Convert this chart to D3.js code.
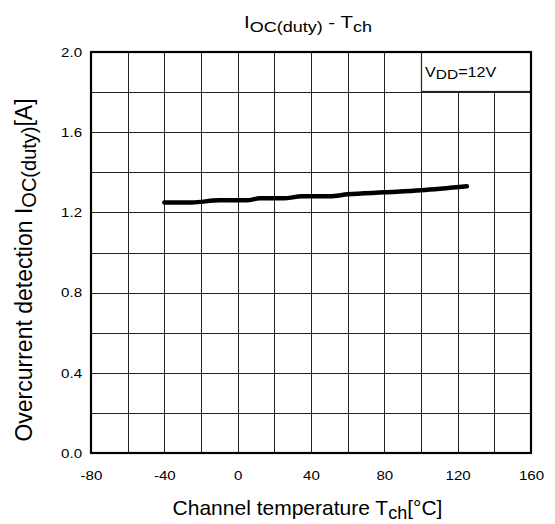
<!DOCTYPE html>
<html>
<head>
<meta charset="utf-8">
<script src="https://cdn.jsdelivr.net/npm/d3@7"></script>
<style>
  body { margin: 0; background: #fff; }
  svg text { font-family: Arial, "Liberation Sans", sans-serif; fill: #000; }
</style>
</head>
<body>
<svg id="chart" width="555" height="524"></svg>
<script>
const temps = [-40, -25, -10, 5, 12, 25, 35, 50, 60, 80, 100, 125];
const currents = [1.25, 1.25, 1.26, 1.26, 1.27, 1.27, 1.28, 1.28, 1.29, 1.30, 1.31, 1.33];
const xTicks = [-80, -40, 0, 40, 80, 120, 160];
const yTicks = [0.0, 0.4, 0.8, 1.2, 1.6, 2.0];
const xGrid = d3.range(-80, 161, 20);
const yGrid = [0.2, 0.4, 0.6, 0.8, 1.0, 1.2, 1.4, 1.6, 1.8];

const FONT = "Arial, 'Liberation Sans', sans-serif";
const svg = d3.select("#chart");
const L = 91, R = 531, T = 52, B = 453;
const x = d3.scaleLinear().domain([-80, 160]).range([L, R]);
const y = d3.scaleLinear().domain([0, 2]).range([B, T]);

const grid = svg.append("g").attr("stroke", "#222").attr("stroke-width", 1);
grid.selectAll("line.v").data(xGrid.filter(d => d > -80 && d < 160)).join("line")
  .attr("x1", d => Math.round(x(d)) + 0.5).attr("x2", d => Math.round(x(d)) + 0.5)
  .attr("y1", B).attr("y2", d => d > 100 ? y(1.8) : T);
grid.selectAll("line.h").data(yGrid).join("line")
  .attr("x1", L).attr("x2", R)
  .attr("y1", d => Math.round(y(d)) + 0.5).attr("y2", d => Math.round(y(d)) + 0.5);

// legend box
const bx = Math.round(x(100)) + 0.5, by = Math.round(y(1.8)) - 0.5;
svg.append("rect").attr("x", bx).attr("y", T)
  .attr("width", R - bx).attr("height", by - T)
  .attr("fill", "#fff").attr("stroke", "#222").attr("stroke-width", 1.2);
const lg = svg.append("text").attr("transform", `translate(${bx + 3.5},76.5) scale(1.15,1)`).attr("font-size", 14);
lg.append("tspan").text("V");
lg.append("tspan").text("DD").attr("font-size", 13.5).attr("dy", 2);
lg.append("tspan").text("=12V").attr("dy", -2);

// frame
svg.append("rect").attr("x", L).attr("y", T).attr("width", R - L).attr("height", B - T)
  .attr("fill", "none").attr("stroke", "#000").attr("stroke-width", 2.2);

// data line
svg.append("path").datum(temps.map((t, i) => [t, currents[i]]))
  .attr("d", d3.line().x(d => x(d[0])).y(d => y(d[1])).curve(d3.curveMonotoneX))
  .attr("fill", "none").attr("stroke", "#000").attr("stroke-width", 4.5).attr("stroke-linecap", "round");

// axes
const fmtX = d => String(d).replace("\u2212", "-");
const xAxis = d3.axisBottom(x).tickValues(xTicks).tickSize(0).tickPadding(17).tickFormat(fmtX);
const gx = svg.append("g").attr("transform", `translate(0,${B})`).call(xAxis);
gx.select(".domain").remove();
gx.selectAll("text").attr("font-size", 13.5).attr("font-family", FONT).attr("transform", "scale(1.12,1)");

const yAxis = d3.axisLeft(y).tickValues(yTicks).tickSize(0).tickPadding(8).tickFormat(d3.format(".1f"));
const gy = svg.append("g").attr("transform", `translate(${L},0)`).call(yAxis);
gy.select(".domain").remove();
gy.selectAll("text").attr("font-size", 13.5).attr("font-family", FONT).attr("transform", "scale(1.12,1)");

// title
const title = svg.append("text").attr("transform", "translate(308,28.3) scale(1.2,1)").attr("text-anchor", "middle").attr("font-size", 17);
title.append("tspan").text("I");
title.append("tspan").text("OC(duty)").attr("font-size", 15).attr("dy", 3.5);
title.append("tspan").text(" - T").attr("dy", -3.5);
title.append("tspan").text("ch").attr("font-size", 15).attr("dy", 3.5);

// x title
const xt = svg.append("text").attr("x", 307.5).attr("y", 515).attr("text-anchor", "middle").attr("font-size", 21);
xt.append("tspan").text("Channel temperature T");
xt.append("tspan").text("ch").attr("font-size", 18).attr("dy", 4);
xt.append("tspan").text("[°C]").attr("dy", -4);

// y title
const yt = svg.append("text").attr("transform", "translate(31.5,270) rotate(-90)").attr("text-anchor", "middle").attr("font-size", 23);
yt.append("tspan").text("Overcurrent detection I");
yt.append("tspan").text("OC(duty)").attr("font-size", 20).attr("dy", 4);
yt.append("tspan").text("[A]").attr("dy", -4);
</script>
</body>
</html>
